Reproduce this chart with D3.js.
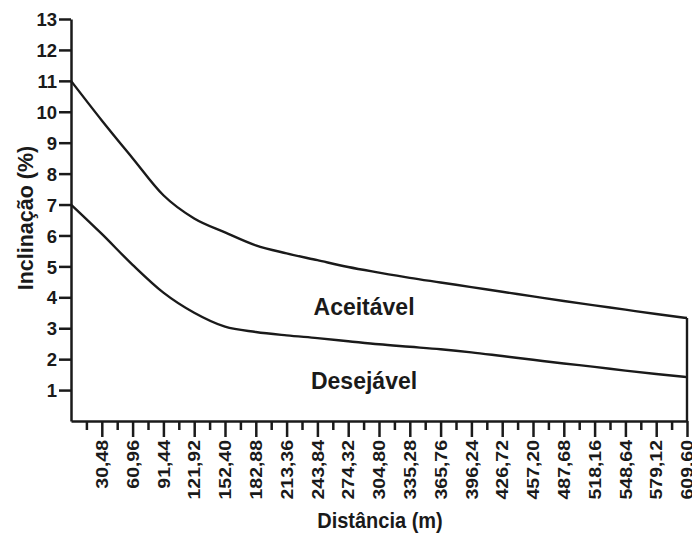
<!DOCTYPE html>
<html><head><meta charset="utf-8">
<script src="https://cdn.jsdelivr.net/npm/d3@7"></script>
<style>body{margin:0;background:#fff}svg{display:block;font-family:"Liberation Sans",Arial,sans-serif}</style>
</head><body><svg id="c" width="692" height="533"></svg>
<script>
const distances = [0,30.48,60.96,91.44,121.92,152.40,182.88,213.36,243.84,274.32,304.80,335.28,365.76,396.24,426.72,457.20,487.68,518.16,548.64,579.12,609.60];
const xTickLabels = ["30,48","60,96","91,44","121,92","152,40","182,88","213,36","243,84","274,32","304,80","335,28","365,76","396,24","426,72","457,20","487,68","518,16","548,64","579,12","609,60"];
const yTicks = [1,2,3,4,5,6,7,8,9,10,11,12,13];
const aceitavel = [11.0,9.72,8.5,7.3,6.55,6.1,5.68,5.42,5.2,4.98,4.8,4.63,4.48,4.33,4.18,4.03,3.88,3.74,3.6,3.46,3.33];
const desejavel = [7.0,6.05,5.05,4.15,3.5,3.05,2.88,2.77,2.68,2.58,2.48,2.4,2.32,2.22,2.1,1.98,1.86,1.75,1.63,1.52,1.42];
const regionLabels = [{text:"Aceitável", x:290, y:3.42},{text:"Desejável", x:290, y:1.02}];

const svg = d3.select("#c");
const ink = "#1a1a1a";
const x = d3.scaleLinear().domain([0,609.6]).range([71,687]);
const y = d3.scaleLinear().domain([0,13]).range([421,19]);

// curves
const line = d3.line().x((d,i)=>x(distances[i])).y(d=>y(d)).curve(d3.curveMonotoneX);
[aceitavel, desejavel].forEach(s=>{
  svg.append("path").attr("d", line(s)).attr("fill","none").attr("stroke",ink).attr("stroke-width",2.4);
});
// right closing line
svg.append("line").attr("x1",x(609.6)).attr("x2",x(609.6)).attr("y1",y(aceitavel[aceitavel.length-1])).attr("y2",y(0))
  .attr("stroke",ink).attr("stroke-width",2.4);

// y axis
const ya = svg.append("g").attr("transform",`translate(${x(0)},0)`)
  .call(d3.axisLeft(y).tickValues(yTicks).tickSize(12).tickSizeOuter(0).tickPadding(2));
ya.select(".domain").attr("stroke",ink).attr("stroke-width",2.5);
ya.selectAll(".tick line").attr("stroke",ink).attr("stroke-width",2.5);
ya.selectAll(".tick text").attr("fill",ink).style("font-size","18.5px").style("font-weight","bold").attr("dy","0.36em");

// x axis major
const majors = distances.slice(1);
const xa = svg.append("g").attr("transform",`translate(0,${y(0)})`)
  .call(d3.axisBottom(x).tickValues(majors).tickFormat((d,i)=>xTickLabels[i]).tickSize(16).tickSizeOuter(0));
xa.select(".domain").attr("stroke",ink).attr("stroke-width",2.5);
xa.selectAll(".tick line").attr("stroke",ink).attr("stroke-width",2.5);
xa.selectAll(".tick text").attr("fill",ink).style("font-size","16.5px").style("font-weight","bold")
  .attr("text-anchor","end").attr("dy","0.35em").attr("y",0)
  .attr("transform","translate(0,19) rotate(-90) scale(1.18,1)");
// minor ticks
const minors = distances.slice(0,-1).map((d,i)=>(d+distances[i+1])/2);
const xm = svg.append("g").attr("transform",`translate(0,${y(0)})`)
  .call(d3.axisBottom(x).tickValues(minors).tickFormat("").tickSize(9).tickSizeOuter(0));
xm.select(".domain").remove();
xm.selectAll(".tick line").attr("stroke",ink).attr("stroke-width",2.5);

// axis titles
svg.append("text").attr("transform","translate(380,528) scale(1,1.12)").attr("text-anchor","middle")
  .attr("fill",ink).style("font-size","20px").style("font-weight","bold").text("Distância (m)");
svg.append("text").attr("transform","translate(33,218) rotate(-90)").attr("text-anchor","middle")
  .attr("fill",ink).style("font-size","21.5px").style("font-weight","bold").text("Inclinação (%)");

// region labels
regionLabels.forEach(r=>{
  svg.append("text").attr("x",x(r.x)).attr("y",y(r.y)).attr("text-anchor","middle")
    .attr("fill",ink).style("font-size","23px").style("font-weight","bold").text(r.text);
});
</script></body></html>
